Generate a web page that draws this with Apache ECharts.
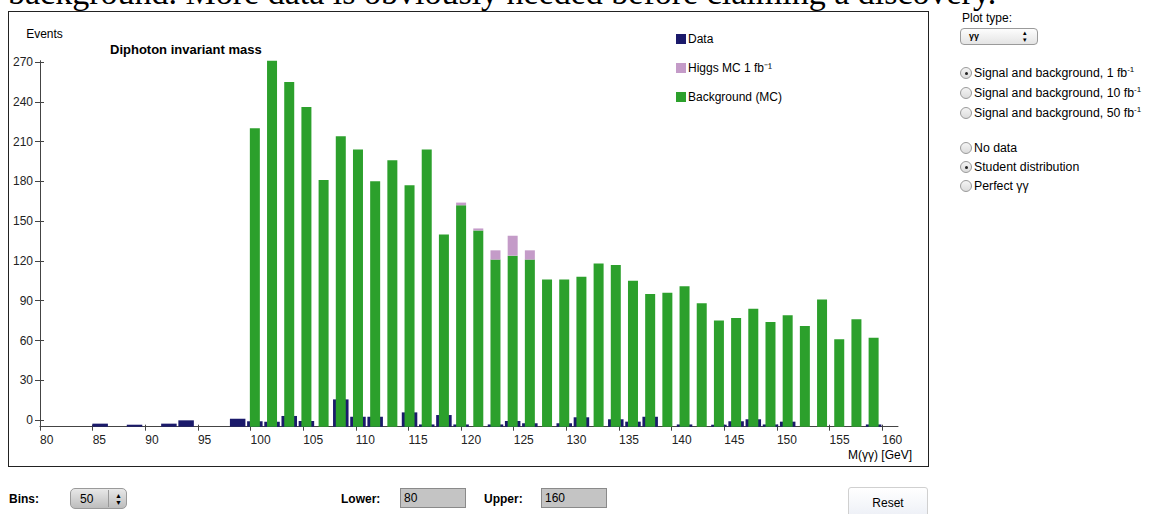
<!DOCTYPE html>
<html>
<head>
<meta charset="utf-8">
<script src="https://cdn.jsdelivr.net/npm/echarts@6/dist/echarts.min.js"></script>
<style>
  body { margin: 0; width: 1161px; height: 514px; overflow: hidden; background: #fff; position: relative;
         font-family: "Liberation Sans", Arial, Helvetica, sans-serif; font-size: 12px; color: #000; }
  .abs { position: absolute; white-space: nowrap; }
  #lead { left: 8px; top: -26px; font-family: "Liberation Serif", "Times New Roman", serif; font-size: 34px; line-height: 38px; }
  #box { left: 8px; top: 11px; width: 919px; height: 454px; border: 1px solid #222; background: #fff; }
  #chart { width: 919px; height: 454px; }
  .sel { border: 1px solid #9a9a9a; border-radius: 4px; background: linear-gradient(#fdfdfd, #e4e4e4); box-sizing: border-box; }
  .radio { width: 12px; height: 12px; border: 1px solid #9a9a9a; border-radius: 50%; box-sizing: border-box;
           background: linear-gradient(#f4f4f4, #dcdcdc); }
  .radio.on::after { content: ""; position: absolute; left: 3.5px; top: 3.5px; width: 3px; height: 3px; border-radius: 50%; background: #222; }
  .rl { line-height: 14px; font-size: 12.3px; }
  sup { font-size: 8px; line-height: 0; vertical-align: 5px; }
  .lbl { font-weight: bold; }
  .inp { background: #c4c4c4; border: 1px solid #8a8a8a; box-sizing: border-box; padding-left: 3px; line-height: 18px; }
</style>
</head>
<body>
<div id="lead" class="abs">background. More data is obviously needed before claiming a discovery.</div>
<div id="box" class="abs"><div id="chart"></div></div>

<div class="abs" style="left:962px;top:11px;">Plot type:</div>
<div class="abs sel" style="left:960px;top:28px;width:78px;height:17px;">
  <span class="abs" style="left:8px;top:2px;font-size:9px;font-weight:bold;">γγ</span>
  <span class="abs" style="left:62px;top:0px;font-size:7px;line-height:7px;">▴<br>▾</span>
</div>

<div class="abs radio on" style="left:960px;top:67px;"></div>
<div class="abs rl" style="left:974px;top:66px;">Signal and background, 1 fb<sup>-1</sup></div>
<div class="abs radio" style="left:960px;top:87px;"></div>
<div class="abs rl" style="left:974px;top:86px;">Signal and background, 10 fb<sup>-1</sup></div>
<div class="abs radio" style="left:960px;top:107px;"></div>
<div class="abs rl" style="left:974px;top:106px;">Signal and background, 50 fb<sup>-1</sup></div>

<div class="abs radio" style="left:960px;top:142px;"></div>
<div class="abs rl" style="left:974px;top:141px;">No data</div>
<div class="abs radio on" style="left:960px;top:161px;"></div>
<div class="abs rl" style="left:974px;top:160px;">Student distribution</div>
<div class="abs radio" style="left:960px;top:180px;"></div>
<div class="abs rl" style="left:974px;top:179px;">Perfect γγ</div>

<div class="abs lbl" style="left:9px;top:492px;">Bins:</div>
<div class="abs sel" style="left:70px;top:488px;width:57px;height:21px;border-radius:5px;background:linear-gradient(#e8e8e8,#bdbdbd);">
  <span class="abs" style="left:9px;top:3px;font-size:12px;">50</span>
  <span class="abs" style="left:37px;top:1px;height:17px;border-left:1px solid #999;"></span>
  <span class="abs" style="left:44px;top:3px;font-size:7px;line-height:7px;">▲<br>▼</span>
</div>
<div class="abs lbl" style="left:341px;top:492px;">Lower:</div>
<div class="abs inp" style="left:400px;top:488px;width:66px;height:20px;">80</div>
<div class="abs lbl" style="left:484px;top:492px;">Upper:</div>
<div class="abs inp" style="left:541px;top:488px;width:66px;height:20px;">160</div>
<div class="abs" style="left:848px;top:487px;width:80px;height:32px;border:1px solid #d0d0d0;border-radius:3px;background:linear-gradient(#ffffff,#eceff6);box-sizing:border-box;text-align:center;line-height:30px;font-size:12px;">Reset</div>

<script>
// histogram controls shown on the page
const lower = 80;
const upper = 160;
const bins = 50;

// axis tick labels
const xTicks = [80, 85, 90, 95, 100, 105, 110, 115, 120, 125, 130, 135, 140, 145, 150, 155, 160];
const yTicks = [0, 30, 60, 90, 120, 150, 180, 210, 240, 270];

// events per bin (null = nothing drawn)
const dataEvents = [
  null, null, null, -2.7, null, -3.5, null, -2.7, -0.2, null, null, 1.0,
  -0.9, -1.2, 3.1, -0.7, null, 15.6, 2.5, 2.5, null, 5.8, -3.3, 3.8,
  -3.3, null, -3.3, -0.7, -2.4, null, -2.4, 2.1, null, 0.6, -1.2, 2.5,
  null, -3.3, null, -3.5, -0.9, 0.6, -3.3, -1.2, null, null, null, null, -3.3
];
const backgroundMC = [
  null, null, null, null, null, null, null, null, null, null, null, null,
  220, 271, 255, 236, 181, 214, 204, 180, 196, 177, 204, 140,
  162, 143, 121, 124, 121, 106, 106, 108, 118, 117, 105, 95,
  96, 101, 88, 75, 77, 84, 74, 79, 71, 91, 61, 76, 62
];
const higgsMC = [
  0, 0, 0, 0, 0, 0, 0, 0, 0, 0, 0, 0,
  0, 0, 0, 0, 0, 0, 0, 0, 0, 0, 0, 0,
  2, 1.5, 7, 15, 7, 0, 0, 0, 0, 0, 0, 0,
  0, 0, 0, 0, 0, 0, 0, 0, 0, 0, 0, 0, 0
];

const step = (upper - lower) / (bins - 1);
const binCenters = backgroundMC.map((v, k) => lower + step * (k + 0.5));
// value first, mass second, so that the stack adds up the event counts
const rows = arr => arr.map((v, k) => [v, binCenters[k]]);

const higgsName = 'Higgs MC 1 fb⁻¹';
const font = '"Liberation Sans", Arial, Helvetica, sans-serif';
const axisColor = '#444';

let myChart = echarts.init(document.getElementById('chart'), null, { renderer: 'svg' });
let option = {
  animation: false,
  textStyle: { fontFamily: font },
  title: {
    text: 'Diphoton invariant mass',
    left: 101, top: 31, padding: 0,
    textStyle: { fontSize: 13, fontWeight: 'bold', color: '#000', fontFamily: font }
  },
  legend: {
    orient: 'vertical',
    left: 667, top: 21, padding: 0,
    icon: 'rect', itemWidth: 10, itemHeight: 10, itemGap: 17,
    textStyle: { fontSize: 12, color: '#000', padding: [0, 0, 0, -3] },
    data: ['Data', higgsName, 'Background (MC)']
  },
  grid: { left: 31, top: 48.7, width: 858, height: 366 },
  xAxis: [{
    type: 'value', min: lower, max: 161.5, position: 'bottom',
    name: 'M(γγ) [GeV]', nameLocation: 'end', nameGap: 14,
    nameTextStyle: { align: 'right', verticalAlign: 'top', padding: [22, 0, 0, 0], fontSize: 12, color: '#000' },
    axisLine: { onZero: false, lineStyle: { color: axisColor } },
    axisTick: { customValues: xTicks, length: 4, lineStyle: { color: axisColor } },
    axisLabel: { customValues: xTicks, align: 'left', margin: 7, fontSize: 12, color: '#222' },
    splitLine: { show: false }
  }, {
    // same scale, carries the data bars and the inner half of the ticks
    type: 'value', min: lower, max: 161.5, position: 'bottom',
    axisLine: { show: false, onZero: false },
    axisTick: { customValues: xTicks, inside: true, length: 2, lineStyle: { color: axisColor } },
    axisLabel: { show: false },
    splitLine: { show: false }
  }],
  yAxis: [{
    type: 'value', min: -5, max: 271, startValue: -5, position: 'left',
    name: 'Events', nameLocation: 'end', nameGap: 27,
    nameTextStyle: { align: 'center', verticalAlign: 'middle', padding: [0, 0, 0, 9], fontSize: 12, color: '#000' },
    axisLine: { show: true, onZero: false, lineStyle: { color: axisColor } },
    axisTick: { show: true, customValues: yTicks, length: 5, lineStyle: { color: axisColor } },
    axisLabel: { customValues: yTicks, margin: 7, fontSize: 12, color: '#222' },
    splitLine: { show: false }
  }, {
    type: 'value', min: -5, max: 271, position: 'left',
    axisLine: { show: false, onZero: false },
    axisTick: { show: true, customValues: yTicks, inside: true, length: 4, lineStyle: { color: axisColor } },
    axisLabel: { show: false },
    splitLine: { show: false }
  }],
  series: [
    {
      name: 'Data', type: 'bar', xAxisIndex: 1, barWidth: 15.5,
      itemStyle: { color: '#1b1a6b' },
      encode: { x: 1, y: 0 },
      data: rows(dataEvents)
    },
    {
      name: 'Background (MC)', type: 'bar', stack: 'mc', barWidth: 10,
      itemStyle: { color: '#2ca02c' },
      encode: { x: 1, y: 0 },
      data: rows(backgroundMC)
    },
    {
      name: higgsName, type: 'bar', stack: 'mc', barWidth: 10,
      itemStyle: { color: '#c49bc8' },
      encode: { x: 1, y: 0 },
      data: rows(higgsMC)
    }
  ]
};
myChart.setOption(option);
</script>
</body>
</html>
